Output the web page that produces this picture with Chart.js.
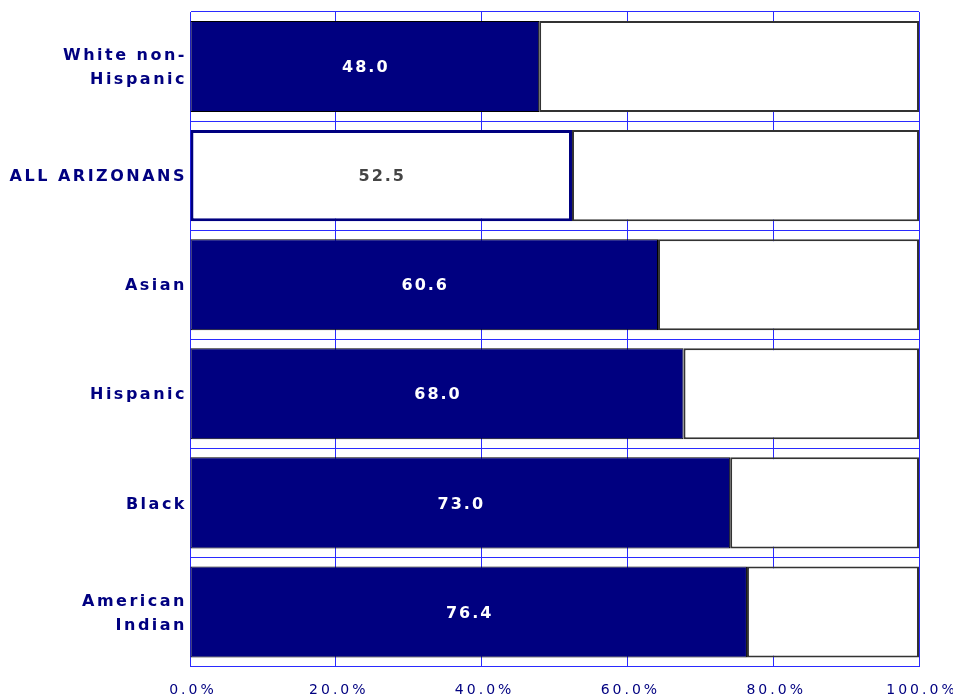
<!DOCTYPE html>
<html><head><meta charset="utf-8">
<script src="https://cdn.jsdelivr.net/npm/chart.js@4"></script>
<style>html,body{margin:0;padding:0;background:#fff;overflow:hidden}</style>
</head><body>
<canvas id="c" width="953" height="696"></canvas>
<script>
const categories = [["White non-","Hispanic"],"ALL ARIZONANS","Asian","Hispanic","Black",["American","Indian"]];
const barValues = [47.9, 52.4, 64.2, 67.7, 74.1, 76.4];
const remainderValues = [52.1, 47.6, 35.8, 32.3, 25.9, 23.6];
const valueLabels = ["48.0","52.5","60.6","68.0","73.0","76.4"];
const xTickValues = [0, 20, 40, 60, 80, 100];
const highlightIndex = 1;

const NAVY = '#000080';
const GRID = '#2a2aff';

const fillColors = barValues.map((v,i)=> i===highlightIndex ? '#ffffff' : NAVY);
const borderColors = barValues.map((v,i)=> i===highlightIndex ? NAVY : '#000000');
const borderWidths = barValues.map((v,i)=> i===highlightIndex ? 3 : 1);

const spacingPlugin = {
  id: 'spacing',
  beforeUpdate(chart){ chart.ctx.letterSpacing = '2.5px'; },
  beforeDraw(chart){ chart.ctx.letterSpacing = '2.5px'; },
  afterDatasetsDraw(chart){
    const ctx = chart.ctx;
    const meta = chart.getDatasetMeta(0);
    ctx.save();
    ctx.letterSpacing = '2px';
    ctx.font = 'bold 16px "DejaVu Sans"';
    ctx.textAlign = 'center';
    ctx.textBaseline = 'middle';
    meta.data.forEach((bar, i) => {
      const x = (bar.base + bar.x) / 2;
      ctx.fillStyle = i === highlightIndex ? '#444444' : '#ffffff';
      ctx.fillText(valueLabels[i], x + 1, bar.y + 1.5);
    });
    ctx.restore();
    ctx.letterSpacing = '3px';
  }
};

new Chart(document.getElementById('c'), {
  type: 'bar',
  data: {
    labels: categories,
    datasets: [
      {
        data: barValues,
        backgroundColor: fillColors,
        borderColor: borderColors,
        borderWidth: borderWidths,
        borderSkipped: false,
        barPercentage: 0.835,
        categoryPercentage: 1
      },
      {
        data: remainderValues,
        backgroundColor: '#ffffff',
        borderColor: '#333333',
        borderWidth: 2,
        borderSkipped: false,
        barPercentage: 0.835,
        categoryPercentage: 1
      }
    ]
  },
  options: {
    indexAxis: 'y',
    responsive: false,
    animation: false,
    devicePixelRatio: 1,
    layout: { padding: { top: 12, right: 34, bottom: 0, left: 0 } },
    plugins: { legend: { display: false }, tooltip: { enabled: false } },
    scales: {
      x: {
        stacked: true,
        min: 0, max: 100,
        afterBuildTicks(scale){ scale.ticks = xTickValues.map(v => ({ value: v })); },
        afterFit(scale){ scale.paddingLeft = 0; scale.paddingRight = 0; scale.height = 29.5; },
        grid: { color: GRID, lineWidth: 1, drawTicks: false },
        border: { color: GRID, width: 1 },
        ticks: {
          z: 1,
          padding: 15.5,
          labelOffset: 3,
          color: NAVY,
          font: { family: '"DejaVu Sans"', size: 14 },
          callback: (v) => Number(v).toFixed(1) + '%',
          maxRotation: 0,
          autoSkip: false
        }
      },
      y: {
        stacked: true,
        afterFit(scale){ scale.width = 190; scale.paddingTop = 0; scale.paddingBottom = 0; },
        grid: { color: GRID, lineWidth: 1, drawTicks: false, offset: true },
        border: { color: GRID, width: 1 },
        ticks: {
          padding: 3,
          labelOffset: 1.5,
          color: NAVY,
          font: { family: '"DejaVu Sans"', size: 16, weight: 'bold', lineHeight: 1.5 },
          autoSkip: false
        }
      }
    }
  },
  plugins: [spacingPlugin]
});
</script>
</body></html>
